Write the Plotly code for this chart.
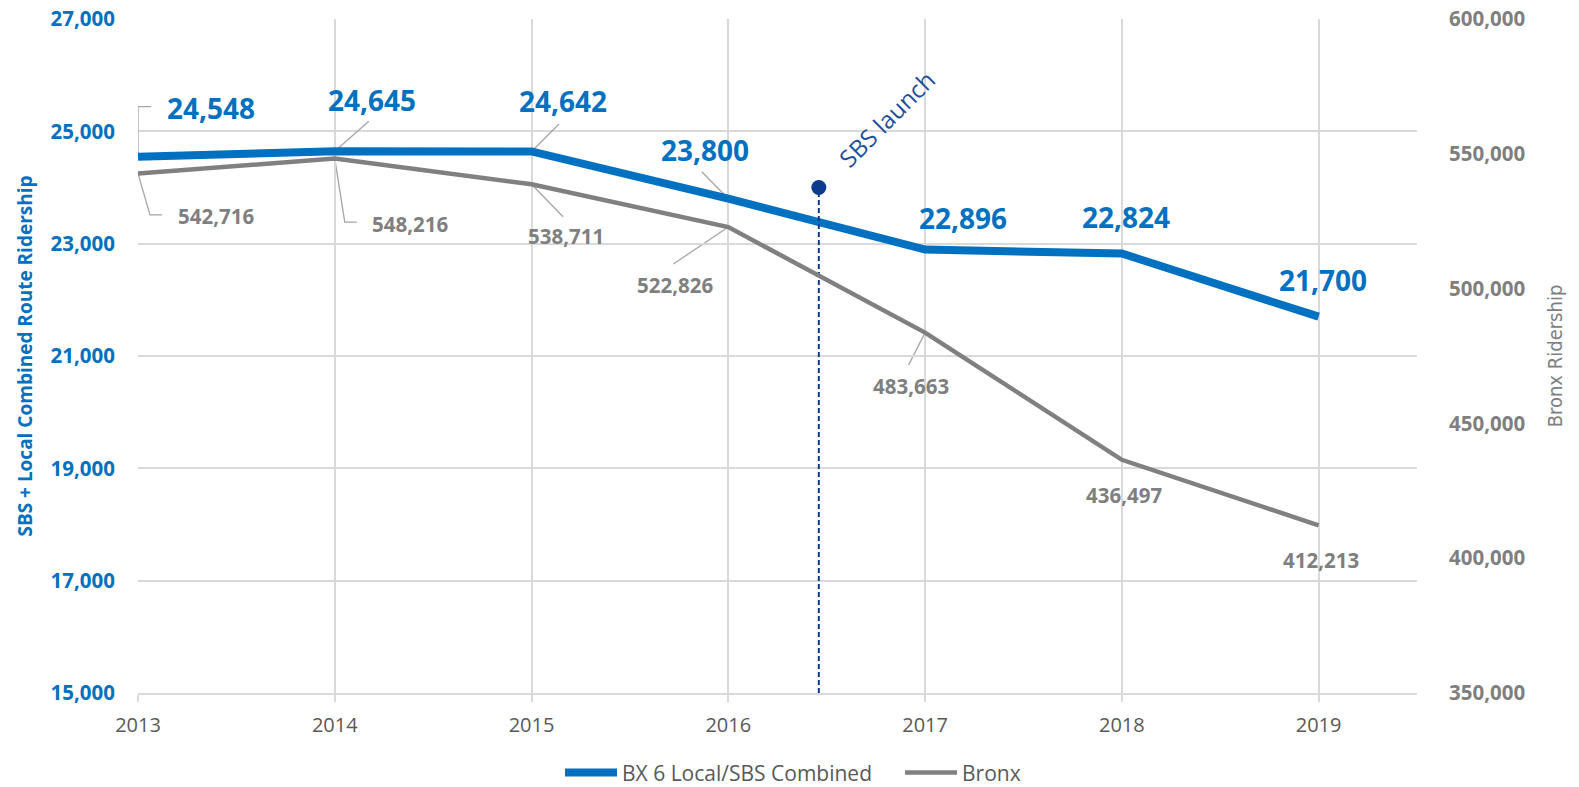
import plotly.graph_objects as go

# ---------------- data ----------------
years = [2013, 2014, 2015, 2016, 2017, 2018, 2019]
bx6_combined = [24548, 24645, 24642, 23800, 22896, 22824, 21700]
bronx = [542716, 548216, 538711, 522826, 483663, 436497, 412213]

left_ticks = [15000, 17000, 19000, 21000, 23000, 25000, 27000]
right_ticks = [350000, 400000, 450000, 500000, 550000, 600000]

sbs_launch_x = 2016.46
sbs_marker_y = 24000
sbs_label = "SBS launch"

series_names = ["BX 6 Local/SBS Combined", "Bronx"]
axis_titles = ["SBS + Local Combined Route Ridership", "Bronx Ridership"]

# ---------------- styles ----------------
BLUE = "#0070C0"
GRAY = "#808080"
GRAY_TXT = "#7F7F7F"
NAVY = "#0D3C8C"
NAVY_TXT = "#1F4E9A"
GRID = "#D9D9D9"
LEADER = "#A6A6A6"
FONT = "Open Sans, Lato, DejaVu Sans, sans-serif"

BLUE_LBL = 28
GRAY_LBL = 20.5
# label offsets (px) per point: (dx, dy up)
blue_offsets = [(73, 49), (37, 51), (31, 50), (-23, 49), (38, 32), (4, 37), (4, 37)]
gray_offsets = [(78, -43), (75, -65), (34, -52), (-53, -58), (-14, -53), (2, -35), (2, -35)]
# leader line paths (px relative to the point, y up), None = no leader
blue_leaders = ["M0,0 L0,50 L13,50", "M0,0 L34,30", "M0,0 L27.5,27.5", "M0,0 L-26.5,27", None, None, None]
gray_leaders = ["M0,0 L12,-41.5 L24,-41.5", "M0,0 L10,-63.5 L22,-63.5", "M0,0 L31.5,-32.5",
                "M0,0 L-55,-37", "M0,0 L-16.5,-32.5", None, None]

fig = go.Figure()

fig.add_trace(go.Scatter(
    x=years, y=bx6_combined, name=series_names[0], mode="lines",
    line=dict(color=BLUE, width=8), yaxis="y",
))
fig.add_trace(go.Scatter(
    x=years, y=bronx, name=series_names[1], mode="lines",
    line=dict(color=GRAY, width=4.5), yaxis="y2",
))
# SBS launch marker line
fig.add_trace(go.Scatter(
    x=[sbs_launch_x, sbs_launch_x], y=[left_ticks[0], sbs_marker_y], mode="lines",
    line=dict(color=NAVY, width=2, dash="5px,3px"), showlegend=False, hoverinfo="skip",
    yaxis="y",
))
fig.add_trace(go.Scatter(
    x=[sbs_launch_x], y=[sbs_marker_y], mode="markers",
    marker=dict(color=NAVY, size=15), showlegend=False, hoverinfo="skip", yaxis="y",
))

annotations = []
shapes = []
for i, (yr, v) in enumerate(zip(years, bx6_combined)):
    dx, dy = blue_offsets[i]
    annotations.append(dict(
        x=yr, y=v, xref="x", yref="y", text=f"{v:,}", showarrow=False,
        xshift=dx, yshift=dy, xanchor="center", yanchor="middle",
        font=dict(family=FONT, size=BLUE_LBL, color=BLUE, weight="bold"),
    ))
    if blue_leaders[i]:
        shapes.append(dict(
            type="path", path=blue_leaders[i], xref="x", yref="y",
            xsizemode="pixel", ysizemode="pixel", xanchor=yr, yanchor=v,
            line=dict(color=LEADER, width=1.3), layer="between",
        ))
for i, (yr, v) in enumerate(zip(years, bronx)):
    dx, dy = gray_offsets[i]
    annotations.append(dict(
        x=yr, y=v, xref="x", yref="y2", text=f"{v:,}", showarrow=False,
        xshift=dx, yshift=dy, xanchor="center", yanchor="middle",
        font=dict(family=FONT, size=GRAY_LBL, color=GRAY_TXT, weight="bold"),
    ))
    if gray_leaders[i]:
        shapes.append(dict(
            type="path", path=gray_leaders[i], xref="x", yref="y2",
            xsizemode="pixel", ysizemode="pixel", xanchor=yr, yanchor=v,
            line=dict(color=LEADER, width=1.3), layer="below",
        ))

annotations.append(dict(
    x=sbs_launch_x, y=sbs_marker_y, xref="x", yref="y", text=sbs_label,
    showarrow=False, textangle=-45, xshift=68, yshift=69,
    xanchor="center", yanchor="middle",
    font=dict(family=FONT, size=24, color=NAVY_TXT),
))

fig.update_layout(
    width=1579, height=787,
    margin=dict(l=138, r=162, t=19, b=94, autoexpand=False),
    plot_bgcolor="white", paper_bgcolor="white",
    font=dict(family=FONT),
    showlegend=True,
    legend=dict(
        orientation="h", xref="container", yref="container",
        x=0.570, xanchor="center", y=0.018, yanchor="middle",
        font=dict(family=FONT, size=21, color="#595959"),
        itemwidth=52, entrywidth=273, entrywidthmode="pixels",
        tracegroupgap=0, bgcolor="rgba(0,0,0,0)",
    ),
    xaxis=dict(
        range=[years[0], years[-1] + 0.5], tick0=years[0], dtick=1,
        showgrid=True, gridcolor=GRID, gridwidth=1.5,
        showline=True, linecolor=GRID, linewidth=1.5,
        ticks="outside", ticklen=7, tickcolor=GRID, tickwidth=1.5,
        tickfont=dict(family=FONT, size=20, color="#595959"),
        ticklabelstandoff=6, zeroline=False, automargin=False,
        ticklabeloverflow="allow",
    ),
    yaxis=dict(
        range=[left_ticks[0], left_ticks[-1]], tickvals=left_ticks,
        tickformat=",", showgrid=True, gridcolor=GRID, gridwidth=1.5,
        zeroline=False, showline=False, ticks="", automargin=False,
        ticklabeloverflow="allow",
        tickfont=dict(family=FONT, size=20.5, color=BLUE, weight="bold"),
        ticklabelstandoff=22,
        title=dict(text=axis_titles[0], standoff=12,
                   font=dict(family=FONT, size=19, color=BLUE, weight="bold")),
    ),
    yaxis2=dict(
        range=[right_ticks[0], right_ticks[-1]], tickvals=right_ticks,
        tickformat=",", overlaying="y", side="right", showgrid=False,
        zeroline=False, showline=False, ticks="", automargin=False,
        ticklabeloverflow="allow",
        tickfont=dict(family=FONT, size=20.5, color=GRAY_TXT, weight="bold"),
        ticklabelstandoff=31,
        title=dict(text=axis_titles[1], standoff=23,
                   font=dict(family="DejaVu Sans Condensed, Liberation Sans Narrow, Roboto Condensed, sans-serif",
                             size=20, color=GRAY_TXT)),
    ),
    annotations=annotations,
    shapes=shapes,
)

# remove the browser's default 8px page margin so the figure fills the window
fig.write_html("out.html", config={"displayModeBar": False},
               post_script="document.body.style.margin='0';")
